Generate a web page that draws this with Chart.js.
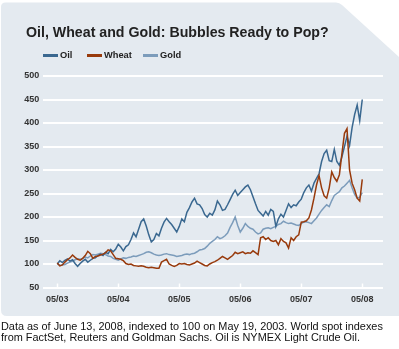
<!DOCTYPE html>
<html>
<head>
<meta charset="utf-8">
<script src="https://cdn.jsdelivr.net/npm/chart.js@4.4.1/dist/chart.umd.min.js"></script>
<style>
  body { margin: 0; background: #fff; }
  #wrap { position: relative; width: 399px; height: 349px; overflow: hidden; font-family: "Liberation Sans", Arial, sans-serif; }
  #panel, #chart { position: absolute; left: 0; top: 0; }
  #title { position: absolute; left: 26px; top: 25px; font-size: 14.2px; line-height: 14px; font-weight: bold; color: #222; white-space: nowrap; }
  .legend-item { position: absolute; top: 51px; font-size: 9.3px; line-height: 9px; font-weight: bold; color: #222; display: flex; align-items: center; white-space: nowrap; }
  .legend-item i { display: inline-block; width: 15px; height: 2.5px; margin-right: 2px; }
  #note { position: absolute; left: 1px; top: 321px; font-size: 10.9px; line-height: 11px; color: #111; white-space: nowrap; }
</style>
</head>
<body>
<div id="wrap">
  <svg id="panel" width="399" height="349">
    <path d="M1,7 Q1,2.5 5.5,2.5 L336,2.5 Q339.5,2.5 342,5 L399,57 L399,316 L7,316 Q1,316 1,310 Z" fill="#e4eaf0"/>
  </svg>
  <canvas id="chart" width="399" height="349"></canvas>
  <div id="title">Oil, Wheat and Gold: Bubbles Ready to Pop?</div>
  <div id="legend"></div>
  <div id="note">Data as of June 13, 2008, indexed to 100 on May 19, 2003. World spot indexes<br>from FactSet, Reuters and Goldman Sachs. Oil is NYMEX Light Crude Oil.</div>
</div>
<script>
// index values (May 19, 2003 = 100), sampled every half month from 05/03
const stepMonths = 0.5;

const oil = [
    100, 107, 103, 108, 111, 106, 109, 101, 95, 101, 106, 110,
    104, 108, 112, 113, 118, 121, 118, 125, 122, 131, 126, 132,
    142, 136, 128, 137, 141, 152, 166, 158, 174, 190, 196, 181,
    162, 147, 152, 165, 160, 176, 189, 197, 190, 184, 176, 168,
    180, 196, 190, 210, 220, 232, 240, 228, 226, 218, 205, 200,
    208, 204, 215, 234, 226, 214, 216, 226, 237, 248, 257, 246,
    252, 258, 264, 268, 258, 243, 228, 214, 208, 202, 212, 204,
    216, 212, 180, 196, 206, 200, 214, 228, 220, 226, 224, 232,
    238, 252, 262, 268, 255, 272, 282, 292, 318, 335, 342, 320,
    318, 344, 318, 310, 328, 350, 372, 352, 390, 418, 438, 405,
    450
];

const wheat = [
    102, 96, 98, 104, 109, 113, 119, 114, 110, 108, 112, 118,
    127, 122, 112, 116, 117, 119, 121, 124, 130, 128, 120, 112,
    111, 110, 107, 101, 99, 100, 97, 96, 95, 96, 95, 93,
    92, 93, 92, 91, 91, 104, 107, 110, 100, 97, 95, 97,
    101, 100, 101, 99, 98, 100, 102, 106, 103, 100, 97, 96,
    100, 103, 105, 108, 112, 116, 113, 110, 114, 118, 125, 122,
    124, 126, 122, 124, 123, 128, 124, 120, 156, 158, 152, 156,
    150, 148, 150, 141, 154, 148, 145, 134, 156, 150, 158, 162,
    189, 190, 192, 198, 215, 240, 268, 288, 262, 245, 240, 262,
    296, 284, 276, 290, 335, 378, 388, 300, 272, 258, 240, 234,
    280
];

const gold = [
    101, 97, 98, 99, 102, 104, 106, 109, 111, 110, 112, 115,
    113, 117, 120, 119, 121, 123, 122, 120, 117, 116, 112, 110,
    108, 111, 113, 112, 114, 115, 117, 116, 118, 120, 122, 125,
    126, 124, 121, 119, 118, 119, 121, 122, 120, 119, 118, 116,
    117, 118, 120, 121, 120, 122, 123, 126, 130, 131, 133, 138,
    144, 148, 152, 158, 154, 156, 160, 166, 178, 188, 200, 182,
    168, 176, 186, 180, 176, 174, 168, 164, 166, 174, 176, 177,
    175, 178, 180, 184, 186, 191, 188, 186, 187, 185, 183, 182,
    186, 189, 190, 188, 186, 192, 198, 206, 214, 220, 226, 222,
    235, 246, 250, 254, 262, 266, 272, 278, 262, 248, 240, 242,
    252
];

const seriesNames = ["Oil", "Wheat", "Gold"];
const seriesColors = ["#3a6890", "#983a0c", "#7c9cbb"];

const xTickMonths = [0, 12, 24, 36, 48, 60];
const xTickLabels = ["05/03", "05/04", "05/05", "05/06", "05/07", "05/08"];

const toPoints = function (values) {
    return values.map(function (v, i) {
        return { x: i * stepMonths, y: v };
    });
};

// legend, drawn as html above the plot
const legendLeft = [43, 87, 143];
const legendBox = document.getElementById("legend");
seriesNames.forEach(function (name, i) {
    const item = document.createElement("div");
    item.className = "legend-item";
    item.style.left = legendLeft[i] + "px";
    item.innerHTML = '<i style="background:' + seriesColors[i] + '"></i>' + name;
    legendBox.appendChild(item);
});

// small upward tick marks on the base line at each year
const yearTicks = {
    id: "yearTicks",
    beforeDatasetsDraw: function (chart) {
        const ctx = chart.ctx;
        const xs = chart.scales.x;
        const base = chart.scales.y.getPixelForValue(50);
        ctx.save();
        ctx.strokeStyle = "#ffffff";
        ctx.lineWidth = 1.5;
        xTickMonths.forEach(function (m) {
            const px = Math.round(xs.getPixelForValue(m)) + 0.5;
            ctx.beginPath();
            ctx.moveTo(px, base);
            ctx.lineTo(px, base - 4);
            ctx.stroke();
        });
        ctx.restore();
    }
};

const tickFont = { family: "'Liberation Sans', Arial, sans-serif", size: 9, weight: "bold" };
const allSeries = [oil, wheat, gold];
const drawOrder = [1, 0, 2];

new Chart(document.getElementById("chart"), {
    type: "line",
    data: {
        datasets: allSeries.map(function (values, i) {
            return {
                label: seriesNames[i],
                data: toPoints(values),
                borderColor: seriesColors[i],
                borderWidth: 1.5,
                pointRadius: 0,
                tension: 0,
                order: drawOrder[i]
            };
        })
    },
    options: {
        responsive: false,
        animation: false,
        layout: { padding: { top: 76, right: 16, left: 0, bottom: 0 } },
        plugins: {
            legend: { display: false },
            tooltip: { enabled: false }
        },
        scales: {
            x: {
                type: "linear",
                min: -2.75,
                max: 64.08,
                afterBuildTicks: function (axis) {
                    axis.ticks = xTickMonths.map(function (m) { return { value: m }; });
                },
                afterFit: function (axis) { axis.height = 61.5; },
                grid: { display: false, drawTicks: false },
                border: { display: false },
                ticks: {
                    autoSkip: false,
                    maxRotation: 0,
                    padding: 7,
                    color: "#333",
                    font: tickFont,
                    callback: function (value) {
                        return xTickLabels[xTickMonths.indexOf(value)];
                    }
                }
            },
            y: {
                min: 50,
                max: 500,
                afterFit: function (axis) { axis.width = 43.3; },
                grid: { color: "#ffffff", lineWidth: 2, drawTicks: false },
                border: { display: false },
                ticks: {
                    stepSize: 50,
                    padding: 4,
                    color: "#333",
                    font: tickFont
                }
            }
        }
    },
    plugins: [yearTicks]
});
</script>
</body>
</html>
